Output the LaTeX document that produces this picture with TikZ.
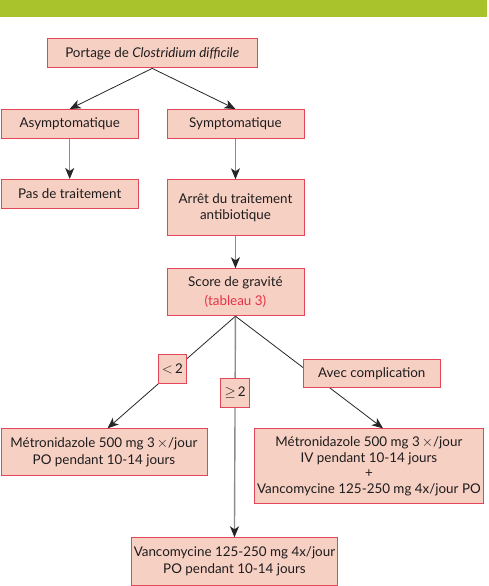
\documentclass[tikz,border=0pt]{standalone}
\usepackage{fontspec}
\setmainfont{Lato}
\usetikzlibrary{arrows.meta}
\definecolor{boxfill}{RGB}{247,208,196}
\definecolor{boxline}{RGB}{226,70,88}
\definecolor{barg}{RGB}{169,195,44}
\definecolor{txt}{RGB}{30,28,28}
\definecolor{redtxt}{RGB}{230,50,70}
\definecolor{shaft}{RGB}{140,140,140}
\begin{document}
\begin{tikzpicture}[x=1pt,y=-1pt,
  box/.style={draw=boxline, fill=boxfill, line width=0.9pt, text=txt, align=center,
    font=\fontsize{13.4}{16.3}\selectfont, inner sep=0pt, anchor=north west},
  darr/.style={-{Stealth[length=11pt,width=9pt,inset=3pt]}, line width=0.8pt, draw=black!85},
  varr/.style={-{Stealth[length=11pt,width=9pt,inset=3pt,color=black!85]}, line width=1.4pt, draw=shaft}]
\useasboundingbox (0,0) rectangle (488,586);
\fill[barg] (0,0) rectangle (487,17);
\node[box, minimum width=210.5, minimum height=29] (p) at (46.5,38.5) {Portage de \textit{Clostridium difficile}};
\node[box, minimum width=137.5, minimum height=29] (asy) at (0.5,109) {Asymptomatique};
\node[box, minimum width=137, minimum height=29] (sym) at (166.5,109) {Symptomatique};
\node[box, minimum width=137.5, minimum height=29] (pas) at (0.5,179) {Pas de traitement};
\node[box, minimum width=137, minimum height=56] (arr) at (166.5,179.3) {Arrêt du traitement\\antibiotique};
\node[box, minimum width=137, minimum height=47, font=\fontsize{13.4}{18.5}\selectfont] (score) at (166.5,268.3) {Score de gravité\\\textcolor{redtxt}{(tableau 3)}};
\node[box, minimum width=206, minimum height=46.7, font=\fontsize{13.4}{17}\selectfont] (lb) at (0.5,428.3) {Métronidazole 500 mg 3\,$\times$/jour\\PO pendant 10-14 jours};
\node[box, minimum width=228.4, minimum height=75, font=\fontsize{13.4}{15.6}\selectfont] (rb) at (254.3,428.3) {Métronidazole 500 mg 3\,$\times$/jour\\IV pendant 10-14 jours\\+\\Vancomycine 125-250 mg 4x/jour PO};
\node[box, minimum width=206, minimum height=47.4, font=\fontsize{13.4}{16.5}\selectfont] (vb) at (131,537.3) {Vancomycine 125-250 mg 4x/jour\\PO pendant 10-14 jours};
\coordinate (lbin) at ([xshift=107pt]lb.north west);
\coordinate (rbin) at ([xshift=128.7pt]rb.north west);
\draw[darr] (p.south) -- (asy.north);
\draw[darr] (p.south) -- (sym.north);
\draw[varr] (asy.south) -- (pas.north);
\draw[varr] (sym.south) -- (arr.north);
\draw[varr] (arr.south) -- (score.north);
\draw[darr] (score.south) -- (lbin);
\draw[varr] (score.south) -- (vb.north);
\draw[darr] (score.south) -- (rbin);
\node[box, minimum width=28, minimum height=28.4] (lt) at (158,354.3) {$<$\,2};
\node[box, minimum width=29.3, minimum height=29] (ge) at (220,377.7) {$\geq$\,2};
\node[box, minimum width=137.3, minimum height=28.6] (avec) at (302.7,358.7) {Avec complication};
\end{tikzpicture}
\end{document}
